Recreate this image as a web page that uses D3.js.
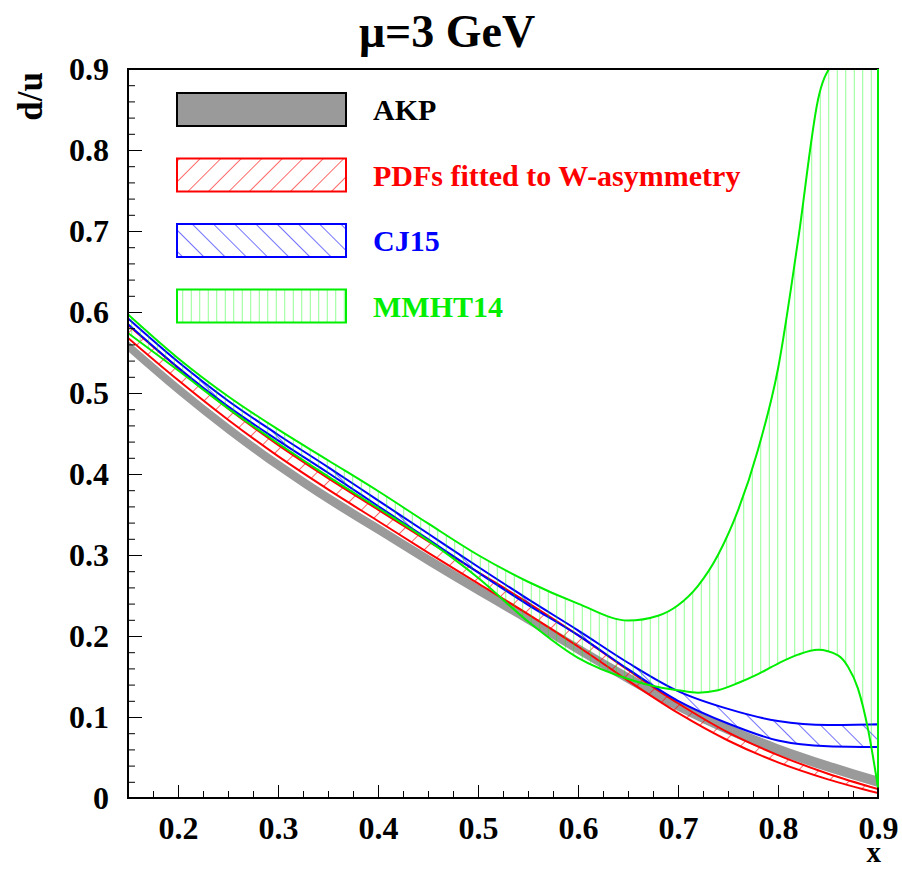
<!DOCTYPE html>
<html>
<head>
<meta charset="utf-8">
<script src="https://cdn.jsdelivr.net/npm/d3@7"></script>
<style>
  body { margin: 0; background: #fff; }
  svg { display: block; }
</style>
</head>
<body>
<div id="chart"></div>
<script>
// d/u ratio at mu = 3 GeV
const xGrid = [0.15, 0.2, 0.25, 0.3, 0.35, 0.4, 0.45, 0.5, 0.55, 0.6, 0.65, 0.7, 0.75, 0.8, 0.85, 0.9];

const akpLo = [0.5515, 0.4985, 0.4495, 0.4045, 0.3635, 0.3255, 0.2875, 0.2505, 0.2145, 0.1775, 0.1415, 0.1075, 0.0785, 0.0535, 0.0325, 0.0135];
const akpHi = [0.5645, 0.5115, 0.4625, 0.4175, 0.3765, 0.3385, 0.3005, 0.2635, 0.2275, 0.1905, 0.1545, 0.1205, 0.0915, 0.0665, 0.0455, 0.0265];

const wasymLo = [0.568, 0.516, 0.467, 0.422, 0.381, 0.342, 0.303, 0.265, 0.227, 0.187, 0.145, 0.105, 0.071, 0.044, 0.023, 0.006];
const wasymHi = [0.584, 0.531, 0.481, 0.436, 0.395, 0.356, 0.317, 0.279, 0.241, 0.201, 0.158, 0.117, 0.081, 0.053, 0.030, 0.011];

const cj15Lo = [0.585, 0.5315, 0.4835, 0.4415, 0.4015, 0.3605, 0.3195, 0.2785, 0.2385, 0.201, 0.159, 0.120, 0.092, 0.071, 0.064, 0.063];
const cj15Hi = [0.592, 0.5385, 0.4905, 0.4485, 0.4085, 0.3675, 0.3265, 0.2855, 0.2455, 0.207, 0.167, 0.132, 0.110, 0.095, 0.090, 0.091];

const mmhtX  = [0.15, 0.2, 0.25, 0.3, 0.35, 0.4, 0.45, 0.5, 0.55, 0.6, 0.65, 0.68, 0.7, 0.72, 0.74, 0.76, 0.78, 0.8, 0.82, 0.84, 0.86, 0.87, 0.88, 0.89, 0.9];
const mmhtLo = [0.574, 0.528, 0.481, 0.438, 0.397, 0.358, 0.318, 0.272, 0.218, 0.173, 0.147, 0.137, 0.133, 0.130, 0.133, 0.142, 0.153, 0.166, 0.177, 0.183, 0.176, 0.162, 0.135, 0.085, 0.013];
const mmhtHi = [0.597, 0.543, 0.496, 0.455, 0.417, 0.379, 0.339, 0.300, 0.267, 0.240, 0.219, 0.225, 0.238, 0.262, 0.300, 0.355, 0.430, 0.530, 0.688, 0.862, 0.920, 0.950, 0.980, 1.010, 1.040];

const xMajorTicks = [0.2, 0.3, 0.4, 0.5, 0.6, 0.7, 0.8, 0.9];
const yMajorTicks = [0, 0.1, 0.2, 0.3, 0.4, 0.5, 0.6, 0.7, 0.8, 0.9];

const legendLabels = ["AKP", "PDFs fitted to W-asymmetry", "CJ15", "MMHT14"];

const W = 902, H = 869;
const font = "'Liberation Serif', 'Times New Roman', serif";

const svg = d3.select("#chart").append("svg")
    .attr("width", W)
    .attr("height", H);

svg.append("rect").attr("width", W).attr("height", H).attr("fill", "#fff");

const x = d3.scaleLinear().domain([0.15, 0.9]).range([128, 878]);
const y = d3.scaleLinear().domain([0, 0.9]).range([798, 69]);

const defs = svg.append("defs");

defs.append("clipPath").attr("id", "plotClip")
    .append("rect")
    .attr("x", x(0.15)).attr("y", y(0.9))
    .attr("width", x(0.9) - x(0.15)).attr("height", y(0) - y(0.9));

// hatch fills, like ROOT 3004 / 3005 / vertical
function hatch(id, color, angle, gap, opacity) {
    const p = defs.append("pattern")
        .attr("id", id)
        .attr("patternUnits", "userSpaceOnUse")
        .attr("width", gap)
        .attr("height", gap)
        .attr("patternTransform", `rotate(${angle})`);
    p.append("line")
        .attr("x1", 0).attr("y1", gap / 2)
        .attr("x2", gap).attr("y2", gap / 2)
        .attr("stroke", color)
        .attr("stroke-width", 1)
        .attr("stroke-opacity", opacity);
}
hatch("hatchRed", "#ff0000", -45, 14.5, 0.6);
hatch("hatchBlue", "#0000ff", 45, 15, 0.55);
hatch("hatchGreen", "#00ff00", 90, 8.5, 0.45);

function bandArea(xs, lo, hi) {
    const rows = xs.map((d, i) => ({x: d, lo: lo[i], hi: hi[i]}));
    return d3.area()
        .x(d => x(d.x))
        .y0(d => y(d.lo))
        .y1(d => y(d.hi))
        .curve(d3.curveMonotoneX)(rows);
}

const plot = svg.append("g").attr("clip-path", "url(#plotClip)");

// AKP grey band
plot.append("path")
    .attr("d", bandArea(xGrid, akpLo, akpHi))
    .attr("fill", "#9a9a9a")
    .attr("stroke", "none");

// W-asymmetry red band
plot.append("path")
    .attr("d", bandArea(xGrid, wasymLo, wasymHi))
    .attr("fill", "url(#hatchRed)")
    .attr("stroke", "#ff0000")
    .attr("stroke-width", 2);

// CJ15 blue band
plot.append("path")
    .attr("d", bandArea(xGrid, cj15Lo, cj15Hi))
    .attr("fill", "url(#hatchBlue)")
    .attr("stroke", "#0000ff")
    .attr("stroke-width", 2);

// MMHT14 green band
plot.append("path")
    .attr("d", bandArea(mmhtX, mmhtLo, mmhtHi))
    .attr("fill", "url(#hatchGreen)")
    .attr("stroke", "#00ee00")
    .attr("stroke-width", 2);

// axes: ticks point inside the frame
function styleAxis(g) {
    g.select(".domain").remove();
    g.selectAll("line").attr("stroke", "#000").attr("stroke-width", 1);
    g.selectAll("text")
        .attr("fill", "#000")
        .style("font-family", font)
        .style("font-weight", "bold")
        .style("font-size", "32px");
}

svg.append("g")
    .attr("transform", `translate(0,${y(0)})`)
    .call(d3.axisBottom(x).tickValues(d3.range(0.15, 0.9001, 0.025)).tickSize(-7).tickFormat(""))
    .call(styleAxis);

svg.append("g")
    .attr("transform", `translate(0,${y(0)})`)
    .call(d3.axisBottom(x).tickValues(xMajorTicks).tickSize(-13).tickPadding(18).tickFormat(d3.format(".1f")))
    .call(styleAxis);

svg.append("g")
    .attr("transform", `translate(${x(0.15)},0)`)
    .call(d3.axisLeft(y).tickValues(d3.range(0, 0.9001, 0.02)).tickSize(-7).tickFormat(""))
    .call(styleAxis);

svg.append("g")
    .attr("transform", `translate(${x(0.15)},0)`)
    .call(d3.axisLeft(y).tickValues(yMajorTicks).tickSize(-14).tickPadding(19)
        .tickFormat(d => d === 0 ? "0" : d3.format(".1f")(d)))
    .call(styleAxis);

// frame
svg.append("rect")
    .attr("x", x(0.15)).attr("y", y(0.9))
    .attr("width", x(0.9) - x(0.15)).attr("height", y(0) - y(0.9))
    .attr("fill", "none")
    .attr("stroke", "#000")
    .attr("stroke-width", 2);

// the green band closes along the right edge
svg.append("line")
    .attr("x1", x(0.9)).attr("x2", x(0.9))
    .attr("y1", y(0.9)).attr("y2", y(mmhtLo[mmhtLo.length - 1]))
    .attr("stroke", "#00ee00")
    .attr("stroke-width", 2);

// legend
const legendFill = ["#9a9a9a", "url(#hatchRed)", "url(#hatchBlue)", "url(#hatchGreen)"];
const legendStroke = ["#000", "#ff0000", "#0000ff", "#00ee00"];
const legendText = ["#000", "#ff0000", "#0000ff", "#00ee00"];

const legend = svg.append("g");
legendLabels.forEach((label, i) => {
    const top = 93 + i * 65.5;
    legend.append("rect")
        .attr("x", 177).attr("y", top)
        .attr("width", 169).attr("height", 33)
        .attr("fill", legendFill[i])
        .attr("stroke", legendStroke[i])
        .attr("stroke-width", 2);
    legend.append("text")
        .attr("x", 373).attr("y", top + 27)
        .attr("fill", legendText[i])
        .style("font-family", font)
        .style("font-weight", "bold")
        .style("font-size", "30px")
        .text(label);
});

// titles
svg.append("text")
    .attr("x", 447).attr("y", 47)
    .attr("text-anchor", "middle")
    .style("font-family", font)
    .style("font-weight", "bold")
    .style("font-size", "46px")
    .text("\u03bc=3 GeV");

svg.append("text")
    .attr("transform", "translate(42,72) rotate(-90)")
    .attr("text-anchor", "end")
    .style("font-family", font)
    .style("font-weight", "bold")
    .style("font-size", "35px")
    .text("d/u");

svg.append("text")
    .attr("x", 881).attr("y", 862)
    .attr("text-anchor", "end")
    .style("font-family", font)
    .style("font-weight", "bold")
    .style("font-size", "29px")
    .text("x");
</script>
</body>
</html>
